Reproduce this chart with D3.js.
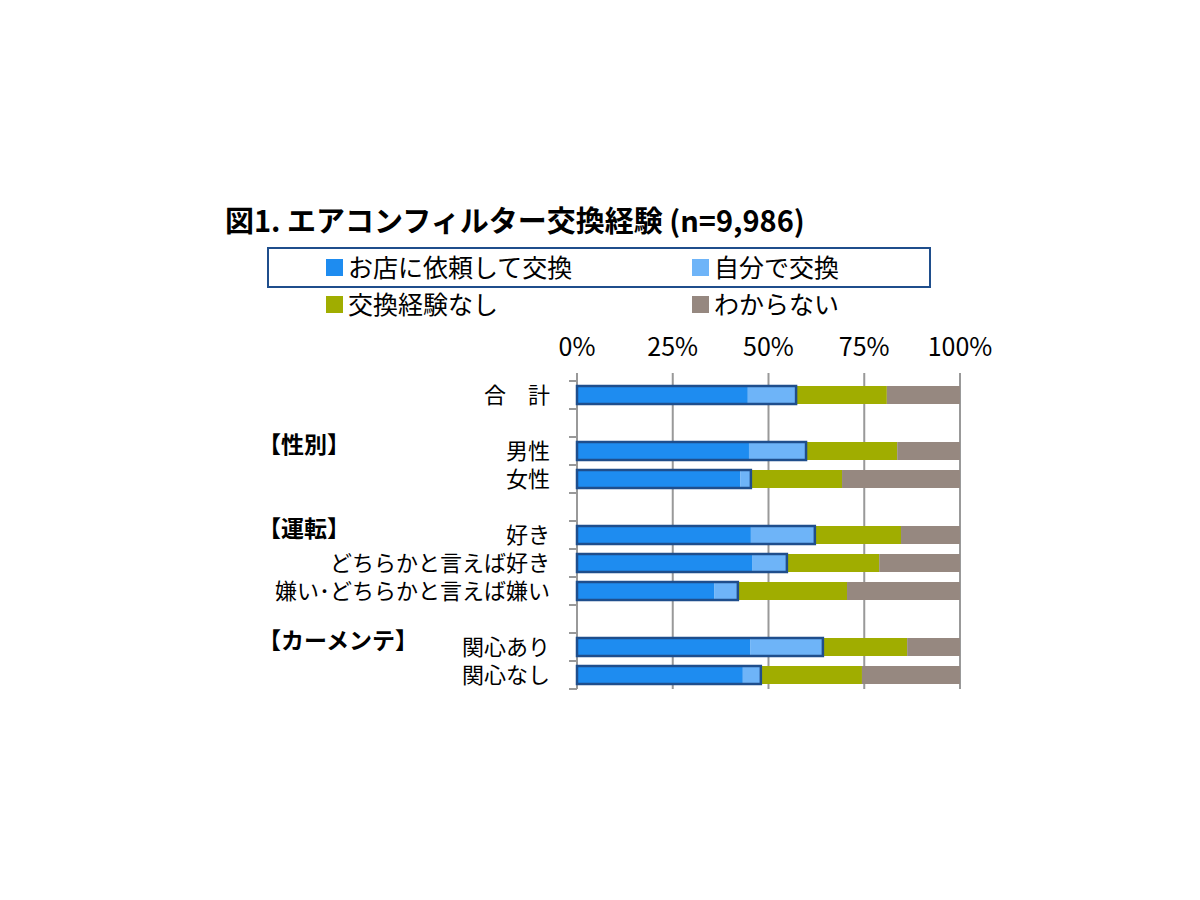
<!DOCTYPE html>
<html lang="ja">
<head>
<meta charset="UTF-8">
<script src="https://d3js.org/d3.v7.min.js"></script>
<style>
  body { margin: 0; background: #fff; }
  text { font-family: "Noto Sans CJK JP", "Noto Sans", sans-serif; fill: #000; }
</style>
</head>
<body>
<svg width="1200" height="900"></svg>
<script>
// rows (null = spacer slot)
const rows = ["合　計", null, "男性", "女性", null, "好き", "どちらかと言えば好き", "嫌い･どちらかと言えば嫌い", null, "関心あり", "関心なし"];
const shop  = [44.6, null, 44.9, 42.6, null, 45.4, 45.7, 35.8, null, 45.2, 43.3];
const self  = [12.6, null, 14.9,  2.8, null, 16.7,  9.1,  6.2, null, 19.0,  4.7];
const none  = [23.7, null, 23.8, 23.8, null, 22.5, 24.1, 28.5, null, 22.0, 26.4];
const seriesNames = ["お店に依頼して交換", "自分で交換", "交換経験なし", "わからない"];
const colors = ["#1e8cf0", "#6eb4f8", "#a0ad00", "#968880"];
const groups = [{label: "【性別】", row: 2}, {label: "【運転】", row: 5}, {label: "【カーメンテ】", row: 9}];
const ticks = [0, 25, 50, 75, 100];

const svg = d3.select("svg");
const x = d3.scaleLinear().domain([0, 100]).range([577, 960]);
const y = d3.scaleBand().domain(d3.range(rows.length)).range([381, 689]);

// title
svg.append("text").attr("x", 225).attr("y", 232).attr("font-size", 29).attr("font-weight", "bold")
  .text("図1. エアコンフィルター交換経験 (n=9,986)");

// legend
svg.append("rect").attr("x", 268).attr("y", 248).attr("width", 662).attr("height", 39)
  .attr("fill", "none").attr("stroke", "#1f4e8c").attr("stroke-width", 2);
const legPos = [[326, 268], [692, 268], [326, 305], [692, 305]];
seriesNames.forEach((n, i) => {
  const [lx, ly] = legPos[i];
  svg.append("rect").attr("x", lx).attr("y", ly - 9).attr("width", 17).attr("height", 17).attr("fill", colors[i]);
  svg.append("text").attr("x", lx + 22).attr("y", ly + 9).attr("font-size", 25).text(n);
});

// grid + top axis labels
ticks.forEach(t => {
  svg.append("line").attr("x1", x(t)).attr("x2", x(t)).attr("y1", 373).attr("y2", 689)
    .attr("stroke", "#999").attr("stroke-width", 2);
  svg.append("text").attr("x", x(t)).attr("y", 356).attr("text-anchor", "middle")
    .attr("font-size", 25).text(t + "%");
});
// left axis ticks
d3.range(rows.length + 1).forEach(i => {
  const yy = 381 + i * y.step();
  svg.append("line").attr("x1", 569).attr("x2", 577).attr("y1", yy).attr("y2", yy)
    .attr("stroke", "#999").attr("stroke-width", 2);
});

const bh = 18;
rows.forEach((r, i) => {
  if (r === null) return;
  const cy = y(i) + y.bandwidth() / 2;
  const vals = [shop[i], self[i], none[i], 100 - shop[i] - self[i] - none[i]];
  let acc = 0;
  vals.forEach((v, k) => {
    svg.append("rect").attr("x", x(acc)).attr("y", cy - bh / 2)
      .attr("width", x(acc + v) - x(acc)).attr("height", bh).attr("fill", colors[k]);
    acc += v;
  });
  svg.append("rect").attr("x", x(0)).attr("y", cy - bh / 2)
    .attr("width", x(shop[i] + self[i]) - x(0)).attr("height", bh)
    .attr("fill", "none").attr("stroke", "#1f4e8c").attr("stroke-width", 2.5);
  svg.append("text").attr("x", 550).attr("y", cy + 8).attr("text-anchor", "end")
    .attr("font-size", 22).text(r);
});

groups.forEach(g => {
  svg.append("text").attr("x", 258).attr("y", y(g.row) + 16).attr("font-size", 23)
    .attr("font-weight", "bold").text(g.label);
});
</script>
</body>
</html>
